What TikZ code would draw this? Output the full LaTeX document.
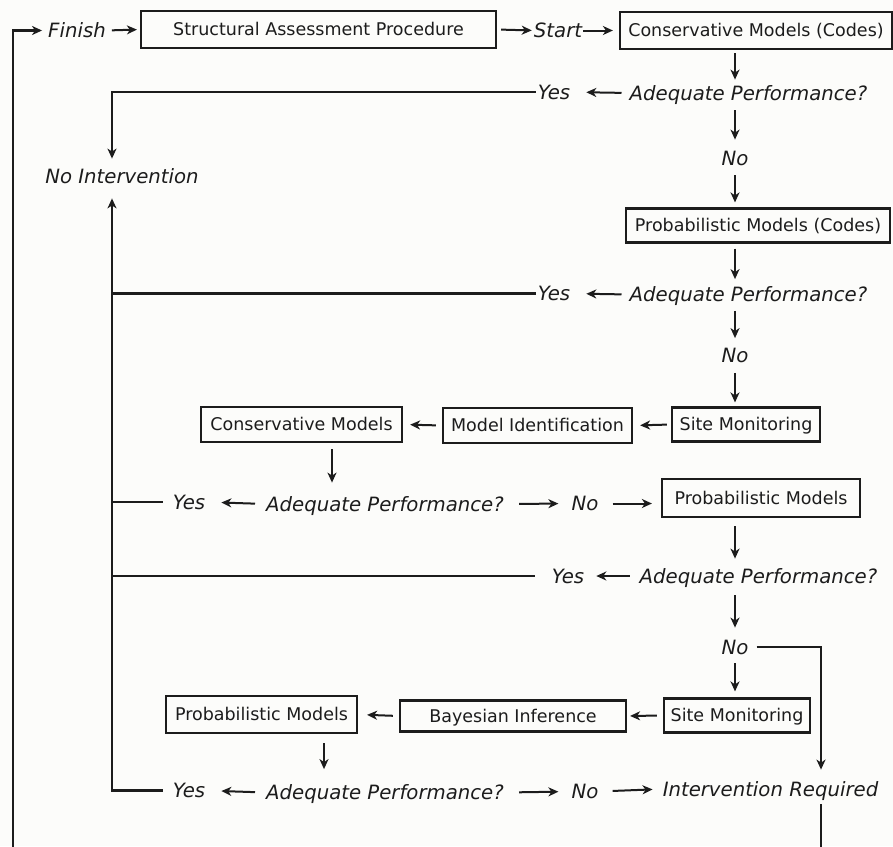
\documentclass[tikz,border=0pt]{standalone}
\usepackage{fontspec}
\setmainfont{DejaVu Sans}
\usetikzlibrary{arrows.meta}
\definecolor{bg}{HTML}{FCFCFA}
\definecolor{ink}{HTML}{1C1C1C}
\begin{document}
\begin{tikzpicture}[x=1pt,y=-1pt,
  box/.style={draw=ink, line width=2.2pt, inner sep=0pt, text=ink,
    font=\fontsize{17.5}{20}\selectfont, text height=12.8pt, text depth=0pt},
  lbl/.style={inner sep=0pt, text=ink, font=\fontsize{19.7}{22}\selectfont\itshape,
    text height=14.4pt, text depth=0pt},
  arr/.style={draw=ink, line width=2pt, -{Stealth[length=10pt,width=9pt,inset=3pt]}},
  ln/.style={draw=ink, line width=2.2pt},
]
\path[use as bounding box, fill=bg] (0,0) rectangle (893,846);
\clip (0,0) rectangle (893,846);

% helper coordinates for connector columns
\coordinate (cx) at (112,0);
\coordinate (lx) at (13,0);
\coordinate (rx) at (821,0);
\coordinate (bot) at (0,900);
\coordinate (c3) at (332,0);
\coordinate (c5) at (324,0);

% nodes
\node[lbl] (finish) at (77,30.5) {Finish};
\node[box, minimum width=355pt, minimum height=37pt] (sap) at (318.5,29.5) {Structural Assessment Procedure};
\node[lbl] (start) at (558,30.5) {Start};
\node[box, minimum width=272pt, minimum height=37pt] (cmc) at (756,30.5) {Conservative Models (Codes)};
\node[lbl] (ap1) at (748.5,93) {Adequate Performance?};
\node[lbl] (yes1) at (554,92) {Yes};
\node[lbl] (no1) at (735,158) {No};
\node[lbl] (noint) at (122,176) {No Intervention};
\node[box, minimum width=264pt, minimum height=34pt] (pmc) at (758,225.5) {Probabilistic Models (Codes)};
\node[lbl] (ap2) at (748.5,294.5) {Adequate Performance?};
\node[lbl] (yes2) at (554,293.5) {Yes};
\node[lbl] (no2) at (735,355.5) {No};
\node[box, minimum width=148pt, minimum height=34pt] (sm1) at (746,424.5) {Site Monitoring};
\node[box, minimum width=189pt, minimum height=35pt] (mi) at (537.5,425.5) {Model Identification};
\node[box, minimum width=201pt, minimum height=35pt] (cm) at (301.5,424.5) {Conservative Models};
\node[lbl] (ap3) at (385,504) {Adequate Performance?};
\node[lbl] (yes3) at (189,502) {Yes};
\node[lbl] (no3) at (585,503.5) {No};
\node[box, minimum width=198pt, minimum height=38pt] (pm1) at (761,498) {Probabilistic Models};
\node[lbl] (ap4) at (758.5,576) {Adequate Performance?};
\node[lbl] (yes4) at (568,576) {Yes};
\node[lbl] (no4) at (735,647) {No};
\node[box, minimum width=146pt, minimum height=34pt] (sm2) at (737,715.5) {Site Monitoring};
\node[box, minimum width=226pt, minimum height=31pt] (bi) at (513,716) {Bayesian Inference};
\node[box, minimum width=191pt, minimum height=37pt] (pm2) at (261.5,714.5) {Probabilistic Models};
\node[lbl] (ap5) at (385,792.5) {Adequate Performance?};
\node[lbl] (yes5) at (189,790.5) {Yes};
\node[lbl] (no5) at (585,791.5) {No};
\node[lbl] (ir) at (770.5,789) {Intervention Required};

% top row
\draw[arr, shorten <=6pt, shorten >=3pt] (finish.east) -- (sap.west);
\draw[arr, shorten <=4pt, shorten >=2pt] (sap.east) -- (start.west);
\draw[arr, shorten <=1pt, shorten >=6pt] (start.east) -- (cmc.west);

% right column, first stage
\draw[arr, shorten <=3pt, shorten >=6pt] (cmc.south -| no1) -- (ap1.north -| no1);
\draw[arr, shorten <=10pt, shorten >=11pt] (ap1.south -| no1) -- (no1.north);
\draw[arr, shorten <=10pt, shorten >=5pt] (no1.south) -- (pmc.north -| no1);
\draw[arr, shorten <=8pt, shorten >=16pt] (ap1.west) -- (yes1.east);
\draw[arr, ln, shorten <=2pt, shorten >=10pt] (yes1.west) -| (noint.north -| cx);

% second stage
\draw[arr, shorten <=5pt, shorten >=8pt] (pmc.south -| no2) -- (ap2.north -| no2);
\draw[arr, shorten <=9pt, shorten >=10pt] (ap2.south -| no2) -- (no2.north);
\draw[arr, shorten <=10pt, shorten >=4pt] (no2.south) -- (sm1.north -| no2);
\draw[arr, shorten <=8pt, shorten >=16pt] (ap2.west) -- (yes2.east);
\draw[ln, shorten <=2pt] (yes2.west) -- (yes2.west -| cx);

% monitoring / identification row
\draw[arr, shorten <=4pt, shorten >=7pt] (sm1.west) -- (mi.east);
\draw[arr, shorten <=6pt, shorten >=7pt] (mi.west) -- (cm.east);
\draw[arr, shorten <=6pt, shorten >=14pt] (cm.south -| c3) -- (ap3.north -| c3);
\draw[arr, shorten <=11pt, shorten >=16pt] (ap3.west) -- (yes3.east);
\draw[ln, shorten <=10pt] (yes3.west) -- (yes3.west -| cx);
\draw[arr, shorten <=15pt, shorten >=13pt] (ap3.east) -- (no3.west);
\draw[arr, shorten <=14pt, shorten >=9pt] (no3.east) -- (no3.east -| pm1.west);

% probabilistic models stage
\draw[arr, shorten <=8pt, shorten >=10pt] (pm1.south -| no4) -- (ap4.north -| no4);
\draw[arr, shorten <=12pt, shorten >=12pt] (ap4.south -| no4) -- (no4.north);
\draw[arr, shorten <=9pt, shorten >=6pt] (no4.south) -- (sm2.north -| no4);
\draw[arr, shorten <=10pt, shorten >=12pt] (ap4.west) -- (yes4.east);
\draw[ln, shorten <=17pt] (yes4.west) -- (yes4.west -| cx);
\draw[arr, ln, shorten <=8pt, shorten >=12pt] (no4.east) -| (ir.north -| rx);

% Bayesian row
\draw[arr, shorten <=6pt, shorten >=3pt] (sm2.west) -- (bi.east);
\draw[arr, shorten <=6pt, shorten >=9pt] (bi.west) -- (pm2.east);
\draw[arr, shorten <=9pt, shorten >=16pt] (pm2.south -| c5) -- (ap5.north -| c5);
\draw[arr, shorten <=11pt, shorten >=16pt] (ap5.west) -- (yes5.east);
\draw[arr, ln, shorten <=10pt, shorten >=15pt] (yes5.west) -| (noint.south -| cx);
\draw[arr, shorten <=15pt, shorten >=13pt] (ap5.east) -- (no5.west);
\draw[arr, shorten <=14pt, shorten >=10pt] (no5.east) -- (ir.west);

% loop back to Finish
\draw[arr, ln, shorten <=8pt, shorten >=6pt] (ir.south -| rx) |- (bot -| lx) |- (finish.west);
\end{tikzpicture}
\end{document}
